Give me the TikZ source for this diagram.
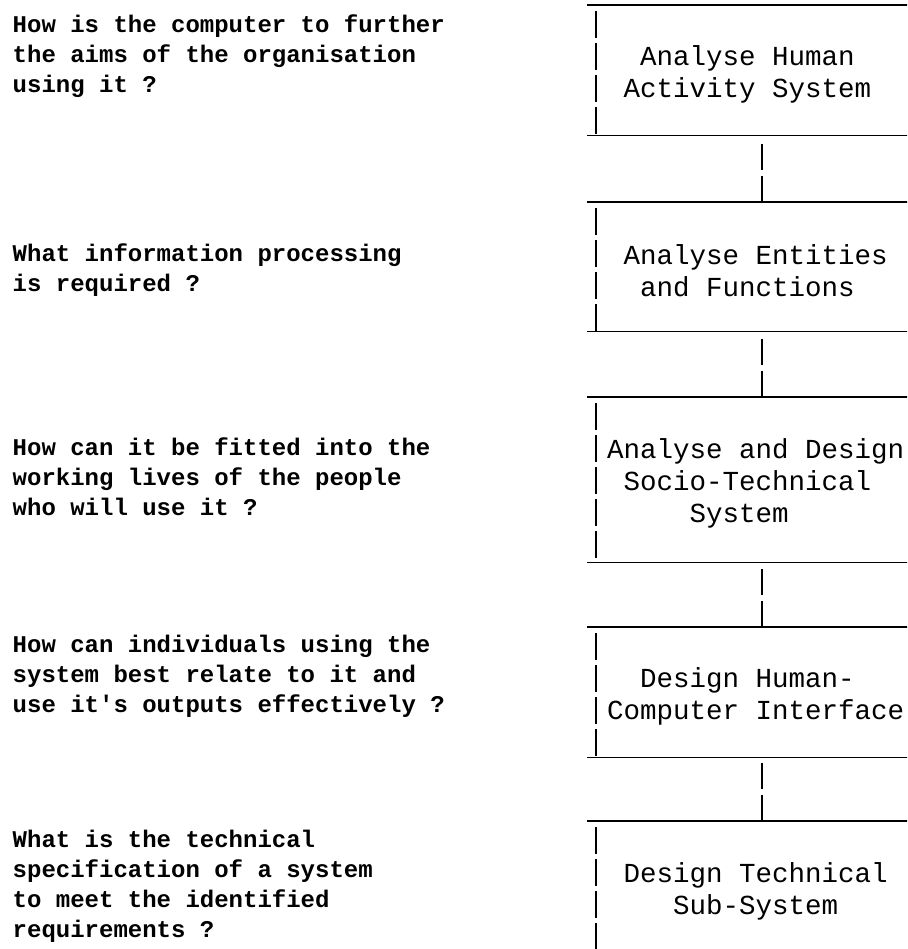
\documentclass[tikz,border=0pt]{standalone}
\usepackage{fontspec}
\newfontfamily\typer{Liberation Mono}
\newcommand\tcol[1]{\hspace*{#1\fontcharwd\font`\A}}

\begin{document}
\begin{tikzpicture}[x=1pt,y=-1pt,
	question/.style={anchor=base west,inner sep=0pt,align=left,
		font=\typer\bfseries\fontsize{24}{30}\selectfont},
	stage/.style={anchor=north west,text width=310pt,inner xsep=11pt,inner ysep=0pt,
		align=flush left,text height=28pt,font=\typer\fontsize{27.5}{32}\selectfont},
	edge/.style={line width=1.6pt},
	side/.style={line width=1.6pt,dash pattern=on 27pt off 5pt},
	link/.style={line width=1.6pt,dash pattern=on 26pt off 6pt on 26pt off 40pt}]
	\useasboundingbox (0,0) rectangle (907,949);
	\clip (0,0) rectangle (907,949);

	\node[question] (q1) at (12.5,93) {How is the computer to further\\the aims of the organisation\\using it ?};
	\node[question] (q2) at (12.5,291) {What information processing\\is required ?};
	\node[question] (q3) at (12.5,515) {How can it be fitted into the\\working lives of the people\\who will use it ?};
	\node[question] (q4) at (12.5,712) {How can individuals using the\\system best relate to it and\\use it's outputs effectively ?};
	\node[question] (q5) at (12.5,937) {What is the technical\\specification of a system\\to meet the identified\\requirements ?};

	\node[stage,minimum height=130pt] (b1) at (596,5) {\tcol2Analyse Human\\\tcol1Activity System};
	\node[stage,minimum height=129pt] (b2) at (596,202) {\tcol1Analyse Entities\\\tcol2and Functions};
	\node[stage,minimum height=165pt] (b3) at (596,397) {Analyse and Design\\\tcol1Socio-Technical\\\tcol5System};
	\node[stage,minimum height=130pt] (b4) at (596,627) {\tcol2Design Human-\\Computer Interface};
	\node[stage,minimum height=133pt] (b5) at (596,821) {\tcol1Design Technical\\\tcol4Sub-System};

	\foreach \b in {b1,b2,b3,b4,b5} {
		\draw[edge] ([xshift=-9pt]\b.north west) -- (\b.north east);
		\draw[edge] ([xshift=-9pt]\b.south west) -- (\b.south east);
		\draw[side] ([yshift=-6pt]\b.north west) -- (\b.south west);
	}
	\foreach \a/\b in {b1/b2,b2/b3,b3/b4,b4/b5}
		\draw[link] (\b.north) -- (\a.south);
\end{tikzpicture}
\end{document}
